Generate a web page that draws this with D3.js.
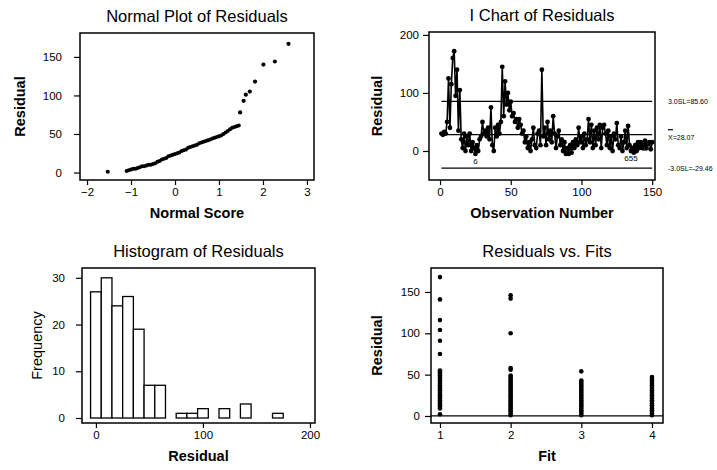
<!DOCTYPE html>
<html>
<head>
<meta charset="utf-8">
<script src="https://cdn.jsdelivr.net/npm/d3@7"></script>
<style>
body { margin: 0; background: #fff; }
text { font-family: "Liberation Sans", Arial, sans-serif; fill: #000; }
</style>
</head>
<body>
<svg id="chart" width="717" height="470"></svg>
<script>
// ---- normal plot: normal scores vs residuals
var normScores = [-1.10,-1.05,-1.00,-0.95,-0.90,-0.85,-0.80,-0.75,-0.70,-0.65,-0.60,-0.55,-0.50,-0.45,-0.40,-0.35,-0.30,-0.25,-0.20,-0.15,-0.10,-0.05,0.00,0.05,0.10,0.15,0.20,0.25,0.30,0.35,0.40,0.45,0.50,0.55,0.60,0.65,0.70,0.75,0.80,0.85,0.90,0.95,1.00,1.05,1.10,1.15,1.20,1.25,1.30,1.35,1.40,1.45];
var normResid = [2,3,4,5,5,6,7,8,8,9,10,10,11,12,14,15,17,18,19,21,22,23,24,25,26,28,29,30,32,33,34,35,36,38,39,40,41,42,43,44,45,46,47,48,50,52,54,56,58,59,60,61];
var normOutScores = [-1.53, 1.48, 1.56, 1.61, 1.70, 1.82, 2.01, 2.27, 2.58];
var normOutResid = [1, 78, 93, 101, 105, 118, 140, 144, 167];

// ---- I chart: residual by observation number 1..150
var obsResid = [30,28,33,30,50,125,40,115,160,172,95,140,35,105,20,5,30,0,25,10,
  30,0,15,5,-5,10,0,20,25,50,30,35,25,40,20,75,10,0,40,25,
  45,30,50,145,60,120,80,100,70,85,60,65,50,55,40,55,45,30,35,15,
  25,5,15,0,20,40,10,5,30,35,10,140,25,40,10,50,20,35,15,60,
  30,5,25,35,10,20,0,15,-5,5,-5,10,-3,15,5,20,10,40,15,25,
  5,30,10,20,55,15,45,5,35,10,40,20,45,5,40,45,30,10,35,5,
  25,0,30,20,48,10,5,25,0,15,35,5,43,10,0,5,-3,10,0,15,
  5,15,5,10,18,5,12,15,3,15];
var ctrlValues = [85.60, 28.07, -29.46];
var ctrlLabels = ["3.0SL=85.60", "X=28.07", "-3.0SL=-29.46"];
var testObs = [25, 135, 145];
var testLabels = ["6", "655", "2"];

// ---- histogram: bin midpoints and counts
var binMids = [0,10,20,30,40,50,60,70,80,90,100,110,120,130,140,150,160,170];
var binCounts = [27,30,24,26,19,7,7,0,1,1,2,0,2,0,3,0,0,1];

// ---- residuals vs fits
var fitLevels = [1, 2, 3, 4];
var fit1Resid = [168,141,116,104,91,75,55,53,51,49,47,45,43,41,39,37,35,33,31,29,27,25,23,21,19,17,15,13,11,9,2];
var fit2Resid = [146,142,100,58,56,49,47,45,43,41,39,37,35,33,31,29,27,25,23,21,19,17,15,13,11,9,7,5,3,1];
var fit3Resid = [54,43,41,39,37,35,33,31,29,27,25,23,21,19,17,15,13,11,9,7,5,3,1];
var fit4Resid = [47,45,43,41,39,37,35,33,31,29,27,25,23,21,19,17,15,13,11,9,7,5,3,1];

var svg = d3.select("#chart");

// one framed panel with ticks, title and axis labels
var makePanel = function (opt) {
    var g = svg.append("g");
    var x = d3.scaleLinear().domain(opt.xDomain).range([opt.left, opt.right]);
    var y = d3.scaleLinear().domain(opt.yDomain).range([opt.bottom, opt.top]);

    var xa = g.append("g").attr("transform", "translate(0," + opt.bottom + ")")
        .call(d3.axisBottom(x).tickValues(opt.xTicks).tickFormat(d3.format("d"))
            .tickSize(5).tickPadding(3).tickSizeOuter(0));
    var ya = g.append("g").attr("transform", "translate(" + opt.left + ",0)")
        .call(d3.axisLeft(y).tickValues(opt.yTicks).tickFormat(d3.format("d"))
            .tickSize(6).tickPadding(opt.yPad).tickSizeOuter(0));
    [xa, ya].forEach(function (a) {
        a.select(".domain").remove();
        a.selectAll("line").attr("stroke", "#000").attr("stroke-width", 1.2);
        a.selectAll("text").attr("font-size", "11.5px").attr("font-family", null).attr("fill", "#000");
    });

    g.append("rect").attr("x", opt.left).attr("y", opt.top)
        .attr("width", opt.right - opt.left).attr("height", opt.bottom - opt.top)
        .attr("fill", "none").attr("stroke", "#000").attr("stroke-width", 1.5);

    g.append("text").attr("x", (opt.left + opt.right) / 2).attr("y", opt.top - 11)
        .attr("text-anchor", "middle").attr("font-size", "16.5px").text(opt.title);
    g.append("text").attr("x", (opt.left + opt.right) / 2).attr("y", opt.bottom + 38)
        .attr("text-anchor", "middle").attr("font-size", "14.5px").attr("font-weight", "bold").text(opt.xLabel);
    g.append("text").attr("transform", "translate(" + opt.yLabelX + "," + (opt.top + opt.bottom) / 2 + ") rotate(-90)")
        .attr("text-anchor", "middle").attr("font-size", "14.5px")
        .attr("font-weight", opt.yBold ? "bold" : "normal").text(opt.yLabel);
    return {g: g, x: x, y: y};
};

// ---------- Normal plot
var p1 = makePanel({
    left: 80, right: 314, top: 33, bottom: 180,
    xDomain: [-2.16, 3.16], yDomain: [-9.7, 181],
    xTicks: [-2, -1, 0, 1, 2, 3], yTicks: [0, 50, 100, 150], yPad: 12,
    title: "Normal Plot of Residuals", xLabel: "Normal Score", yLabel: "Residual", yLabelX: 25, yBold: true
});
p1.g.selectAll("circle.n").data(normScores).enter().append("circle")
    .attr("cx", function (d) { return p1.x(d); })
    .attr("cy", function (d, i) { return p1.y(normResid[i]); })
    .attr("r", 2).attr("fill", "#000");
p1.g.selectAll("circle.o").data(normOutScores).enter().append("circle")
    .attr("cx", function (d) { return p1.x(d); })
    .attr("cy", function (d, i) { return p1.y(normOutResid[i]); })
    .attr("r", 2.1).attr("fill", "#000");

// ---------- I chart
var p2 = makePanel({
    left: 429, right: 655, top: 32, bottom: 180,
    xDomain: [-7.8, 152], yDomain: [-50, 205],
    xTicks: [0, 50, 100, 150], yTicks: [0, 100, 200], yPad: 4,
    title: "I Chart of Residuals", xLabel: "Observation Number", yLabel: "Residual", yLabelX: 382, yBold: true
});
ctrlValues.forEach(function (v) {
    p2.g.append("line").attr("x1", p2.x(1)).attr("x2", p2.x(150))
        .attr("y1", p2.y(v)).attr("y2", p2.y(v))
        .attr("stroke", "#000").attr("stroke-width", 1.3);
});
p2.g.append("path").datum(obsResid)
    .attr("d", d3.line().x(function (d, i) { return p2.x(i + 1); }).y(function (d) { return p2.y(d); }))
    .attr("fill", "none").attr("stroke", "#000").attr("stroke-width", 1.6);
p2.g.selectAll("circle").data(obsResid).enter().append("circle")
    .attr("cx", function (d, i) { return p2.x(i + 1); })
    .attr("cy", function (d) { return p2.y(d); })
    .attr("r", 2.4).attr("fill", "#000");
testObs.forEach(function (o, i) {
    p2.g.append("text").attr("x", p2.x(o)).attr("y", p2.y(obsResid[o - 1]) + 10)
        .attr("text-anchor", "middle").attr("font-size", "8px").text(testLabels[i]);
});
ctrlValues.forEach(function (v, i) {
    p2.g.append("text").attr("x", 668).attr("y", p2.y(v) + 3 + (i === 1 ? 2 : 0))
        .attr("font-size", "7px").attr("fill", "#000").text(ctrlLabels[i]);
});
// bar over the X of the centre line label
p2.g.append("line").attr("x1", 668).attr("x2", 673)
    .attr("y1", p2.y(ctrlValues[1]) - 5).attr("y2", p2.y(ctrlValues[1]) - 5)
    .attr("stroke", "#000").attr("stroke-width", 1.2);

// ---------- Histogram
var p3 = makePanel({
    left: 82, right: 315, top: 268, bottom: 423,
    xDomain: [-13, 204.7], yDomain: [-1.07, 32.1],
    xTicks: [0, 100, 200], yTicks: [0, 10, 20, 30], yPad: 11,
    title: "Histogram of Residuals", xLabel: "Residual", yLabel: "Frequency", yLabelX: 42, yBold: false
});
p3.g.selectAll("rect.bar").data(binMids).enter().append("rect")
    .attr("x", function (d) { return p3.x(d - 5); })
    .attr("width", function (d) { return p3.x(d + 5) - p3.x(d - 5); })
    .attr("y", function (d, i) { return p3.y(binCounts[i]); })
    .attr("height", function (d, i) { return p3.y(0) - p3.y(binCounts[i]); })
    .attr("fill", "#fff").attr("stroke", "#000").attr("stroke-width", 1.3);

// ---------- Residuals vs fits
var p4 = makePanel({
    left: 431, right: 663, top: 268, bottom: 423,
    xDomain: [0.873, 4.156], yDomain: [-8.5, 179],
    xTicks: [1, 2, 3, 4], yTicks: [0, 50, 100, 150], yPad: 5,
    title: "Residuals vs. Fits", xLabel: "Fit", yLabel: "Residual", yLabelX: 382, yBold: true
});
p4.g.append("line").attr("x1", 431).attr("x2", 663)
    .attr("y1", p4.y(0)).attr("y2", p4.y(0))
    .attr("stroke", "#000").attr("stroke-width", 1.3);
[fit1Resid, fit2Resid, fit3Resid, fit4Resid].forEach(function (arr, k) {
    p4.g.selectAll("circle.f" + k).data(arr).enter().append("circle")
        .attr("cx", p4.x(fitLevels[k]))
        .attr("cy", function (d) { return p4.y(d); })
        .attr("r", 2.3).attr("fill", "#000");
});
</script>
</body>
</html>
